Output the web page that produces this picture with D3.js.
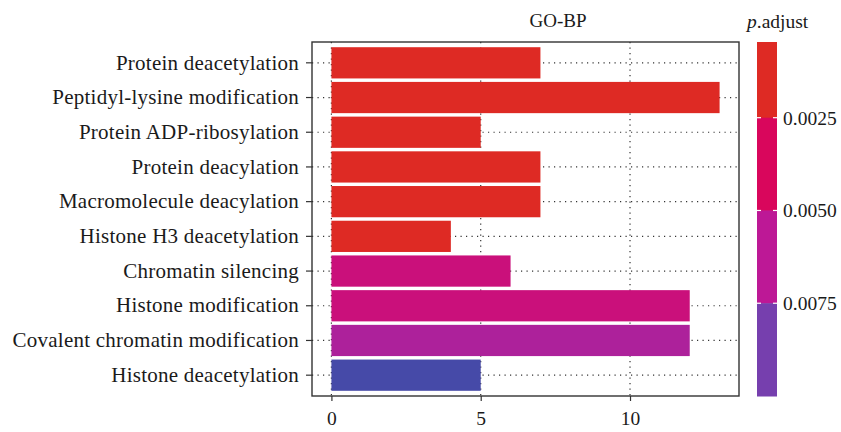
<!DOCTYPE html>
<html>
<head>
<meta charset="utf-8">
<script src="https://cdnjs.cloudflare.com/ajax/libs/d3/7.8.5/d3.min.js"></script>
<style>
  body { margin: 0; background: #fff; }
  text { font-family: "Liberation Serif", "Times New Roman", serif; fill: #1a1a1a; }
</style>
</head>
<body>
<div id="vis"></div>
<script>
// GO-BP enrichment, top to bottom
const terms = [
  "Protein deacetylation",
  "Peptidyl-lysine modification",
  "Protein ADP-ribosylation",
  "Protein deacylation",
  "Macromolecule deacylation",
  "Histone H3 deacetylation",
  "Chromatin silencing",
  "Histone modification",
  "Covalent chromatin modification",
  "Histone deacetylation"
];
const counts = [7, 13, 5, 7, 7, 4, 6, 12, 12, 5];
const pAdjust = [0.0010, 0.0010, 0.0010, 0.0010, 0.0010, 0.0010, 0.0051, 0.0051, 0.0068, 0.0100];

const xTicks = [0, 5, 10];
const legendTicks = [0.0025, 0.0050, 0.0075];
const legendRange = [0.00046, 0.0100];
// gradient stops
const colorStops = [0.0015, 0.00375, 0.00625, 0.00875, 0.0100];
const colorValues = ["#de2a24", "#d9065c", "#bd1896", "#763fae", "#464aa8"];

const W = 841, H = 432;
const panel = {left: 312, right: 739, top: 42, bottom: 396};

const svg = d3.select("#vis").append("svg")
  .attr("width", W).attr("height", H);

const x = d3.scaleLinear()
  .domain([0 - 0.05 * 13, 13 + 0.05 * 13])
  .range([panel.left, panel.right]);

const y = d3.scaleBand()
  .domain(terms)
  .range([panel.top, panel.bottom])
  .paddingInner(0.1)
  .paddingOuter(0.15);

const color = d3.scaleLinear()
  .domain(colorStops)
  .range(colorValues)
  .clamp(true);

// grid
const grid = svg.append("g")
  .attr("stroke", "#333")
  .attr("stroke-width", 1.2)
  .attr("stroke-dasharray", "1.2,4.3");
grid.selectAll("line.v").data(xTicks).join("line")
  .attr("class", "v")
  .attr("x1", d => x(d)).attr("x2", d => x(d))
  .attr("y1", panel.top).attr("y2", panel.bottom);
grid.selectAll("line.h").data(terms).join("line")
  .attr("class", "h")
  .attr("x1", panel.left).attr("x2", panel.right)
  .attr("y1", d => y(d) + y.bandwidth() / 2)
  .attr("y2", d => y(d) + y.bandwidth() / 2);

// bars
svg.append("g").selectAll("rect").data(terms).join("rect")
  .attr("x", x(0))
  .attr("y", d => y(d))
  .attr("width", (d, i) => x(counts[i]) - x(0))
  .attr("height", y.bandwidth())
  .attr("fill", (d, i) => color(pAdjust[i]));

// panel border
svg.append("rect")
  .attr("x", panel.left).attr("y", panel.top)
  .attr("width", panel.right - panel.left)
  .attr("height", panel.bottom - panel.top)
  .attr("fill", "none")
  .attr("stroke", "#333")
  .attr("stroke-width", 1.4);

// axes
const xAxis = svg.append("g")
  .attr("transform", `translate(0,${panel.bottom})`)
  .call(d3.axisBottom(x).tickValues(xTicks).tickSize(5).tickPadding(10).tickFormat(d3.format("d")));
xAxis.select(".domain").remove();
xAxis.selectAll("line").attr("stroke", "#333").attr("stroke-width", 1.2);
xAxis.selectAll("text").attr("font-size", 19.5).attr("fill", "#1a1a1a")
  .style("font-family", "'Liberation Serif', serif");

const yAxis = svg.append("g")
  .attr("transform", `translate(${panel.left},0)`)
  .call(d3.axisLeft(y).tickSize(6).tickPadding(7));
yAxis.select(".domain").remove();
yAxis.selectAll("line").attr("stroke", "#333").attr("stroke-width", 1.2);
yAxis.selectAll("text").attr("font-size", 21).attr("fill", "#1a1a1a")
  .attr("letter-spacing", "0.25px")
  .style("font-family", "'Liberation Serif', serif");

// title
svg.append("text")
  .attr("x", 558).attr("y", 27)
  .attr("text-anchor", "middle")
  .attr("font-size", 19)
  .text("GO-BP");

// colour legend
const lg = {x: 757, w: 20};
const ly = d3.scaleLinear().domain(legendRange).range([panel.top, panel.bottom]);
const edges = [legendRange[0], ...legendTicks, legendRange[1]];
const blocks = d3.pairs(edges);
svg.append("g").selectAll("rect").data(blocks).join("rect")
  .attr("x", lg.x).attr("width", lg.w)
  .attr("y", d => ly(d[0]))
  .attr("height", d => ly(d[1]) - ly(d[0]) + 0.5)
  .attr("fill", d => color((d[0] + d[1]) / 2));

const lt = svg.append("g");
lt.selectAll("line.l").data(legendTicks).join("line")
  .attr("x1", lg.x).attr("x2", lg.x + 4)
  .attr("y1", d => ly(d)).attr("y2", d => ly(d))
  .attr("stroke", "#fff").attr("stroke-width", 1.2);
lt.selectAll("line.r").data(legendTicks).join("line")
  .attr("x1", lg.x + lg.w - 4).attr("x2", lg.x + lg.w)
  .attr("y1", d => ly(d)).attr("y2", d => ly(d))
  .attr("stroke", "#fff").attr("stroke-width", 1.2);
lt.selectAll("text").data(legendTicks).join("text")
  .attr("x", lg.x + lg.w + 6)
  .attr("y", d => ly(d))
  .attr("dy", "0.35em")
  .attr("font-size", 19.5)
  .text(d => d3.format(".4f")(d));

const lTitle = svg.append("text")
  .attr("x", 747).attr("y", 28)
  .attr("font-size", 19.5);
lTitle.append("tspan").attr("font-style", "italic").text("p");
lTitle.append("tspan").text(".adjust");
</script>
</body>
</html>
